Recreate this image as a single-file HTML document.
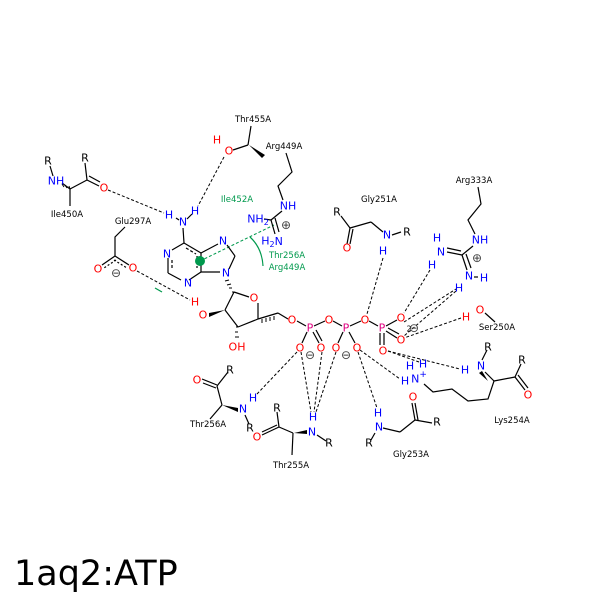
<!DOCTYPE html>
<html><head><meta charset="utf-8"><style>
html,body{margin:0;padding:0;background:#fff}
svg{display:block}
text{font-family:"DejaVu Sans","Liberation Sans",sans-serif}
.a{font-size:11px;text-anchor:middle;dominant-baseline:central}
.l{font-size:8.5px;text-anchor:middle;dominant-baseline:central;fill:#000}
.N{fill:#0000ff}.O{fill:#ff0000}.P{fill:#e00080}.K{fill:#000}.G{fill:#00994d}
.b line,.b polyline,.b path{stroke:#000;stroke-width:1.2;fill:none}
.d line{stroke:#000;stroke-width:1;stroke-dasharray:3,2}
.c{font-size:12px;fill:#444;text-anchor:middle;dominant-baseline:central}
</style></head><body>
<svg width="600" height="600" viewBox="0 0 600 600" xmlns="http://www.w3.org/2000/svg">
<rect width="600" height="600" fill="#fff"/>
<g class="d">
<line x1="108" y1="190" x2="164" y2="213"/>
<line x1="224" y1="157" x2="198" y2="206"/>
<line x1="137" y1="271" x2="190" y2="300"/>
<line x1="383" y1="258" x2="367" y2="314"/>
<line x1="430" y1="270" x2="404" y2="313"/>
<line x1="456" y1="291" x2="404" y2="336"/>
<line x1="461" y1="318" x2="404" y2="338"/>
<line x1="404" y1="322" x2="456" y2="289"/>
<line x1="388" y1="351" x2="419" y2="362"/>
<line x1="388" y1="351" x2="460" y2="369"/>
<line x1="360" y1="350" x2="400" y2="379"/>
<line x1="297" y1="352" x2="257" y2="394"/>
<line x1="301" y1="352" x2="311" y2="412"/>
<line x1="322" y1="352" x2="314" y2="412"/>
<line x1="336" y1="352" x2="316" y2="412"/>
<line x1="358" y1="352" x2="377" y2="408"/>
<line x1="200" y1="261" x2="274" y2="225" style="stroke:#00994d"/>
</g>
<g class="b">
<line x1="50" y1="166" x2="53" y2="176"/>
<line x1="62" y1="183" x2="70" y2="189"/>
<line x1="70" y1="189" x2="87" y2="180"/>
<line x1="87" y1="180" x2="85" y2="163"/>
<line x1="87" y1="180" x2="99" y2="186"/>
<line x1="89" y1="176" x2="100" y2="182"/>
<line x1="70" y1="189" x2="70" y2="206"/>
<line x1="233" y1="150" x2="248" y2="145"/>
<line x1="248" y1="145" x2="251" y2="126"/>
<polyline points="286,153 292,172 278,186 283,200"/>
<line x1="282" y1="211" x2="271" y2="220"/>
<line x1="271" y1="220" x2="264" y2="219"/>
<line x1="271" y1="220" x2="275" y2="234"/>
<line x1="275" y1="218" x2="279" y2="232"/>
<line x1="183" y1="228" x2="184" y2="243"/>
<line x1="176" y1="218" x2="179" y2="220"/>
<line x1="187" y1="219" x2="192" y2="214"/>
<line x1="184" y1="243" x2="201" y2="253"/>
<line x1="184" y1="243" x2="172" y2="250"/>
<line x1="168" y1="258" x2="168" y2="273"/>
<line x1="168" y1="273" x2="181" y2="280"/>
<line x1="189" y1="280" x2="201" y2="272"/>
<line x1="201" y1="272" x2="201" y2="253"/>
<line x1="201" y1="253" x2="218" y2="244"/>
<line x1="227" y1="245" x2="235" y2="256"/>
<line x1="235" y1="256" x2="229" y2="269"/>
<line x1="220" y1="272" x2="201" y2="272"/>
<line x1="186" y1="248" x2="196" y2="254" stroke-dasharray="3,2"/>
<line x1="172" y1="260" x2="172" y2="270" stroke-dasharray="3,2"/>
<line x1="197" y1="256" x2="197" y2="268" stroke-dasharray="3,2"/>
<line x1="234" y1="292" x2="249" y2="297"/>
<line x1="258" y1="303" x2="258" y2="319"/>
<line x1="258" y1="319" x2="238" y2="327"/>
<line x1="238" y1="327" x2="225" y2="310"/>
<line x1="225" y1="310" x2="234" y2="292"/>
<line x1="258" y1="319" x2="278" y2="313"/>
<line x1="278" y1="313" x2="288" y2="319"/>
<line x1="297" y1="321" x2="306" y2="326"/>
<line x1="314" y1="326" x2="325" y2="321"/>
<line x1="333" y1="321" x2="342" y2="326"/>
<line x1="350" y1="326" x2="361" y2="321"/>
<line x1="369" y1="321" x2="378" y2="326"/>
<line x1="386" y1="326" x2="397" y2="320"/>
<line x1="386" y1="331" x2="397" y2="338"/>
<line x1="388" y1="328" x2="399" y2="334"/>
<line x1="380" y1="333" x2="380" y2="345"/>
<line x1="384" y1="333" x2="384" y2="345"/>
<line x1="307" y1="332" x2="302" y2="343"/>
<line x1="313" y1="332" x2="319" y2="343"/>
<line x1="316" y1="330" x2="322" y2="341"/>
<line x1="343" y1="332" x2="338" y2="343"/>
<line x1="349" y1="332" x2="355" y2="343"/>
<polyline points="125,227 115,237 115,256"/>
<line x1="115" y1="256" x2="102" y2="265"/>
<line x1="115" y1="256" x2="129" y2="265"/>
<line x1="116" y1="260" x2="104" y2="268" stroke-dasharray="2,2"/>
<line x1="114" y1="260" x2="127" y2="268" stroke-dasharray="2,2"/>
<line x1="341" y1="216" x2="350" y2="228"/>
<line x1="350" y1="228" x2="347" y2="244"/>
<line x1="353" y1="229" x2="350" y2="244"/>
<line x1="350" y1="228" x2="371" y2="222"/>
<line x1="371" y1="222" x2="383" y2="232"/>
<line x1="392" y1="235" x2="401" y2="232"/>
<polyline points="478,187 481,204 468,220 475,234"/>
<line x1="473" y1="246" x2="462" y2="255"/>
<line x1="462" y1="255" x2="447" y2="252"/>
<line x1="461" y1="251" x2="447" y2="248"/>
<line x1="462" y1="255" x2="467" y2="270"/>
<line x1="466" y1="254" x2="471" y2="268"/>
<line x1="474" y1="277" x2="478" y2="277"/>
<line x1="485" y1="313" x2="495" y2="322"/>
<polyline points="424,384 433,392 452,389 468,401 488,399 494,381"/>
<line x1="485" y1="372" x2="494" y2="381"/>
<line x1="494" y1="381" x2="515" y2="377"/>
<line x1="515" y1="377" x2="521" y2="364"/>
<line x1="515" y1="377" x2="525" y2="390"/>
<line x1="518" y1="375" x2="528" y2="388"/>
<line x1="482" y1="360" x2="487" y2="350"/>
<line x1="202" y1="379" x2="217" y2="385"/>
<line x1="203" y1="383" x2="216" y2="388"/>
<line x1="217" y1="386" x2="228" y2="372"/>
<line x1="217" y1="386" x2="222" y2="405"/>
<line x1="222" y1="405" x2="210" y2="419"/>
<line x1="245" y1="415" x2="249" y2="424"/>
<line x1="277" y1="412" x2="279" y2="427"/>
<line x1="279" y1="427" x2="262" y2="435"/>
<line x1="277" y1="425" x2="262" y2="432"/>
<line x1="279" y1="427" x2="293" y2="433"/>
<line x1="293" y1="433" x2="292" y2="455"/>
<line x1="317" y1="435" x2="326" y2="441"/>
<line x1="375" y1="433" x2="371" y2="440"/>
<line x1="383" y1="428" x2="400" y2="432"/>
<line x1="400" y1="432" x2="415" y2="420"/>
<line x1="415" y1="420" x2="412" y2="403"/>
<line x1="418" y1="420" x2="415" y2="403"/>
<line x1="415" y1="420" x2="432" y2="423"/>
</g>
<polygon points="249,145 262,158 265,155" fill="#000"/>
<polygon points="294,433 307,430 307,434" fill="#000"/>
<polygon points="222,405 238,408 238,412" fill="#000"/>
<polygon points="488,381 482,371 479,373" fill="#000"/>
<polygon points="225,310 209,313 209,317" fill="#000"/>
<g stroke="#000" stroke-width="1">
<line x1="70" y1="189" x2="69" y2="186"/><line x1="67" y1="188" x2="65" y2="185"/><line x1="64" y1="187" x2="62" y2="184"/>
<line x1="234" y1="292" x2="232" y2="292"/><line x1="232" y1="288" x2="229" y2="288"/><line x1="231" y1="284" x2="227" y2="285"/><line x1="229" y1="280" x2="225" y2="281"/>
<line x1="238" y1="327" x2="236" y2="327"/><line x1="238" y1="332" x2="235" y2="332"/><line x1="239" y1="337" x2="235" y2="337"/>
<line x1="262" y1="319" x2="262" y2="323"/><line x1="266" y1="318" x2="266" y2="322"/><line x1="270" y1="317" x2="270" y2="321"/><line x1="274" y1="316" x2="274" y2="320"/>
</g>
<circle cx="200" cy="261" r="5" fill="#00994d"/>
<path d="M250,237 Q262,248 263,266" stroke="#00994d" stroke-width="1.2" fill="none"/>
<line x1="155" y1="288" x2="162" y2="292" stroke="#00994d" stroke-width="1.2"/>
<g class="a">
<text x="48" y="161" class="K">R</text>
<text x="56" y="181" class="N">NH</text>
<text x="85" y="158" class="K">R</text>
<text x="104" y="188" class="O">O</text>
<text x="217" y="140" class="O">H</text>
<text x="229" y="151" class="O">O</text>
<text x="288" y="206" class="N">NH</text>
<text x="258" y="219" class="N">NH<tspan font-size="8" dy="3">2</tspan></text>
<text x="272" y="241" class="N">H<tspan font-size="8" dy="3">2</tspan><tspan dy="-3">N</tspan></text>
<text x="286" y="225" class="c">⊕</text>
<text x="169" y="215" class="N">H</text>
<text x="183" y="222" class="N">N</text>
<text x="195" y="211" class="N">H</text>
<text x="167" y="254" class="N">N</text>
<text x="188" y="283" class="N">N</text>
<text x="223" y="241" class="N">N</text>
<text x="226" y="273" class="N">N</text>
<text x="98" y="269" class="O">O</text>
<text x="133" y="268" class="O">O</text>
<text x="116" y="273" class="c">⊖</text>
<text x="254" y="298" class="O">O</text>
<text x="195" y="302" class="O">H</text>
<text x="203" y="315" class="O">O</text>
<text x="237" y="347" class="O">OH</text>
<text x="292" y="320" class="O">O</text>
<text x="310" y="328" class="P">P</text>
<text x="329" y="320" class="O">O</text>
<text x="346" y="328" class="P">P</text>
<text x="365" y="320" class="O">O</text>
<text x="382" y="328" class="P">P</text>
<text x="300" y="348" class="O">O</text>
<text x="321" y="348" class="O">O</text>
<text x="336" y="348" class="O">O</text>
<text x="357" y="348" class="O">O</text>
<text x="401" y="318" class="O">O</text>
<text x="401" y="340" class="O">O</text>
<text x="383" y="351" class="O">O</text>
<text x="310" y="355" class="c">⊖</text>
<text x="346" y="355" class="c">⊖</text>
<text x="409" y="329" class="c" style="font-size:8px;fill:#000">2</text>
<text x="414" y="328" class="c">⊖</text>
<text x="337" y="212" class="K">R</text>
<text x="347" y="248" class="O">O</text>
<text x="387" y="235" class="N">N</text>
<text x="407" y="232" class="K">R</text>
<text x="383" y="251" class="N">H</text>
<text x="480" y="240" class="N">NH</text>
<text x="437" y="238" class="N">H</text>
<text x="441" y="252" class="N">N</text>
<text x="432" y="265" class="N">H</text>
<text x="469" y="276" class="N">N</text>
<text x="484" y="278" class="N">H</text>
<text x="459" y="288" class="N">H</text>
<text x="477" y="258" class="c">⊕</text>
<text x="466" y="317" class="O">H</text>
<text x="480" y="310" class="O">O</text>
<text x="423" y="364" class="N">H</text>
<text x="410" y="366" class="N">H</text>
<text x="419" y="379" class="N">N<tspan font-size="9" dy="-4">+</tspan></text>
<text x="405" y="381" class="N">H</text>
<text x="488" y="347" class="K">R</text>
<text x="481" y="366" class="N">N</text>
<text x="465" y="370" class="N">H</text>
<text x="522" y="360" class="K">R</text>
<text x="528" y="395" class="O">O</text>
<text x="197" y="380" class="O">O</text>
<text x="230" y="370" class="K">R</text>
<text x="243" y="409" class="N">N</text>
<text x="253" y="398" class="N">H</text>
<text x="250" y="428" class="K">R</text>
<text x="277" y="408" class="K">R</text>
<text x="257" y="437" class="O">O</text>
<text x="312" y="432" class="N">N</text>
<text x="313" y="417" class="N">H</text>
<text x="329" y="443" class="K">R</text>
<text x="378" y="413" class="N">H</text>
<text x="379" y="427" class="N">N</text>
<text x="369" y="443" class="K">R</text>
<text x="413" y="397" class="O">O</text>
<text x="437" y="422" class="K">R</text>
</g>
<g class="l">
<text x="67" y="215">Ile450A</text>
<text x="253" y="120">Thr455A</text>
<text x="284" y="147">Arg449A</text>
<text x="237" y="200" style="fill:#00994d">Ile452A</text>
<text x="287" y="256" style="fill:#00994d">Thr256A</text>
<text x="287" y="268" style="fill:#00994d">Arg449A</text>
<text x="133" y="222">Glu297A</text>
<text x="379" y="200">Gly251A</text>
<text x="474" y="181">Arg333A</text>
<text x="497" y="328">Ser250A</text>
<text x="512" y="421">Lys254A</text>
<text x="208" y="425">Thr256A</text>
<text x="291" y="466">Thr255A</text>
<text x="411" y="455">Gly253A</text>
</g>
<text x="14" y="585" style="font-size:35px;fill:#000">1aq2:ATP</text>
</svg>
</body></html>
